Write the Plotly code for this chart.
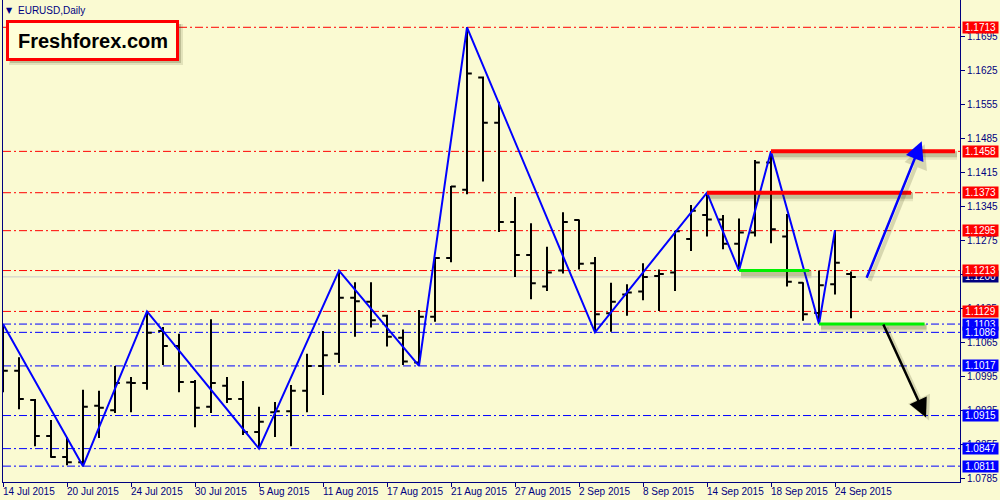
import plotly.graph_objects as go
import pandas as pd

# ---------------- data ----------------
symbol_title = "EURUSD,Daily"
brand_text = "Freshforex.com"

dates = [d.strftime("%Y-%m-%d") for d in pd.bdate_range("2015-07-14", "2015-09-25")]

opens = [1.1070, 1.1007, 1.0947, 1.0873, 1.0830, 1.0819, 1.0935, 1.0926, 1.0983, 1.0982,
         1.1089, 1.1058, 1.0984, 1.0933, 1.0976, 1.0949, 1.0881, 1.0922, 1.0924, 1.0966,
         1.1017, 1.1042, 1.1157, 1.1149, 1.1120, 1.1075, 1.1024, 1.1118, 1.1239, 1.1379,
         1.1610, 1.1517, 1.1313, 1.1245, 1.1180, 1.1213, 1.1317, 1.1228, 1.1125, 1.1164,
         1.1170, 1.1202, 1.1209, 1.1278, 1.1327, 1.1318, 1.1268, 1.1291, 1.1435, 1.1283,
         1.1188, 1.1126, 1.1185, 1.1206]
highs = [1.1103, 1.1035, 1.0949, 1.0906, 1.0871, 1.0968, 1.0966, 1.1017, 1.0994, 1.1129,
         1.1097, 1.1083, 1.0988, 1.1113, 1.0994, 1.0986, 1.0933, 1.0943, 1.0978, 1.1042,
         1.1089, 1.1213, 1.1189, 1.1189, 1.1122, 1.1092, 1.1132, 1.1240, 1.1387, 1.1713,
         1.1612, 1.1560, 1.1364, 1.1310, 1.1262, 1.1333, 1.1318, 1.1241, 1.1188, 1.1185,
         1.1228, 1.1215, 1.1295, 1.1348, 1.1373, 1.1327, 1.1320, 1.1440, 1.1458, 1.1329,
         1.1189, 1.1213, 1.1296, 1.1211]
lows = [1.0963, 1.0928, 1.0852, 1.0828, 1.0813, 1.0811, 1.0869, 1.0920, 1.0922, 1.0968,
        1.1019, 1.0963, 1.0891, 1.0920, 1.0941, 1.0875, 1.0847, 1.0871, 1.0852, 1.0922,
        1.0957, 1.1023, 1.1077, 1.1096, 1.1057, 1.1019, 1.1017, 1.1108, 1.1230, 1.1370,
        1.1396, 1.1292, 1.1200, 1.1154, 1.1171, 1.1207, 1.1215, 1.1086, 1.1087, 1.1120,
        1.1152, 1.1130, 1.1171, 1.1253, 1.1283, 1.1257, 1.1213, 1.1283, 1.1269, 1.1180,
        1.1110, 1.1103, 1.1164, 1.1115]
closes = [1.1007, 1.0949, 1.0873, 1.0830, 1.0819, 1.0933, 1.0931, 1.0982, 1.0982, 1.1085,
          1.1058, 1.0984, 1.0931, 1.0982, 1.0949, 1.0881, 1.0902, 1.0924, 1.0966, 1.1017,
          1.1039, 1.1157, 1.1150, 1.1111, 1.1077, 1.1026, 1.1118, 1.1239, 1.1386, 1.1618,
          1.1517, 1.1313, 1.1245, 1.1187, 1.1209, 1.1313, 1.1227, 1.1123, 1.1149, 1.1168,
          1.1200, 1.1206, 1.1294, 1.1336, 1.1318, 1.1268, 1.1291, 1.1435, 1.1298, 1.1190,
          1.1123, 1.1183, 1.1229, 1.1200]

tick_dates = ["2015-07-14", "2015-07-20", "2015-07-24", "2015-07-30", "2015-08-05",
              "2015-08-11", "2015-08-17", "2015-08-21", "2015-08-27", "2015-09-02",
              "2015-09-08", "2015-09-14", "2015-09-18", "2015-09-24"]
tick_labels = ["14 Jul 2015", "20 Jul 2015", "24 Jul 2015", "30 Jul 2015", "5 Aug 2015",
               "11 Aug 2015", "17 Aug 2015", "21 Aug 2015", "27 Aug 2015", "2 Sep 2015",
               "8 Sep 2015", "14 Sep 2015", "18 Sep 2015", "24 Sep 2015"]

price_ticks = [1.1695, 1.1625, 1.1555, 1.1485, 1.1415, 1.1345, 1.1275, 1.1205,
               1.1135, 1.1065, 1.0995, 1.0925, 1.0855, 1.0785]

resistance_levels = [1.1713, 1.1458, 1.1373, 1.1295, 1.1213, 1.1129]
support_levels = [1.1103, 1.1086, 1.1017, 1.0915, 1.0847, 1.0811]
current_price = 1.1200

zigzag_dates = ["2015-07-14", "2015-07-21", "2015-07-27", "2015-08-05", "2015-08-12",
                "2015-08-19", "2015-08-24", "2015-09-03", "2015-09-14", "2015-09-16",
                "2015-09-18", "2015-09-23", "2015-09-24"]
zigzag_kinds = ["H", "L", "H", "L", "H", "L", "H", "L", "H", "L", "H", "L", "H"]

# thick drawn lines: start date, level, end (bar position)
resist_line_dates = ["2015-09-18", "2015-09-14"]
resist_line_levels = [1.1458, 1.1373]
resist_line_ends = [59.5, 56.75]
support_line_dates = ["2015-09-16", "2015-09-23"]
support_line_levels = [1.1213, 1.1103]
support_line_ends = [50.4, 57.6]

# forecast arrows: (bar position, price) start -> end
arrow_up = [(53.94, 1.1195), (57.42, 1.1479)]
arrow_down = [(54.98, 1.1105), (57.69, 1.0911)]

# ---------------- layout / style ----------------
W, H = 1000, 500
ML, MR, MT, MB = 3, 40, 0, 18
PW, PH = W - ML - MR, H - MT - MB
BAR_PX = 16
Y_RANGE = [1.07784, 1.17691]
PRICE_PER_PX = (Y_RANGE[1] - Y_RANGE[0]) / PH
BG = "#FAFAD2"
NAVY = "#000080"
FONT = "Liberation Sans, Arial, sans-serif"
FS = 10

def fx(px):
    return (px - ML) / PW

def fy(py):
    return (MT + PH - py) / PH

xs = list(range(len(dates)))
idx = {d: i for i, d in enumerate(dates)}

fig = go.Figure()

# OHLC bars
fig.add_trace(go.Ohlc(
    x=xs, open=opens, high=highs, low=lows, close=closes,
    increasing=dict(line=dict(color="black", width=2)),
    decreasing=dict(line=dict(color="black", width=2)),
    tickwidth=0.3, hoverinfo="skip", showlegend=False,
))

# zigzag
zx = [idx[d] for d in zigzag_dates]
zy = [highs[i] if k == "H" else lows[i] for i, k in zip(zx, zigzag_kinds)]
fig.add_trace(go.Scatter(x=zx, y=zy, mode="lines",
                         line=dict(color="#0000FF", width=2),
                         hoverinfo="skip", showlegend=False))

# thick lines with shadows
def thick(dlist, levels, ends, color, width):
    for d, lv, e in zip(dlist, levels, ends):
        x0 = idx[d]
        for off, op, w in [(4, 0.10, width + 5), (3, 0.22, width + 2)]:
            fig.add_trace(go.Scatter(
                x=[x0 + 2 / BAR_PX, e + 2 / BAR_PX],
                y=[lv - off * PRICE_PER_PX] * 2, mode="lines",
                line=dict(color=f"rgba(60,60,20,{op})", width=w),
                hoverinfo="skip", showlegend=False))
        fig.add_trace(go.Scatter(x=[x0, e], y=[lv, lv], mode="lines",
                                 line=dict(color=color, width=width),
                                 hoverinfo="skip", showlegend=False))

thick(resist_line_dates, resist_line_levels, resist_line_ends, "#FF0000", 4)
thick(support_line_dates, support_line_levels, support_line_ends, "#00F000", 3)

shapes = []
# current price line
shapes.append(dict(type="line", xref="paper", x0=0, x1=1, yref="y",
                   y0=current_price, y1=current_price, layer="below",
                   line=dict(color="#C8C8C8", width=1)))
DASH = "8px,3px,2px,3px"
for lv in resistance_levels:
    shapes.append(dict(type="line", xref="paper", x0=0, x1=1, yref="y", y0=lv, y1=lv,
                       layer="below", line=dict(color="#FF0000", width=1, dash=DASH)))
for lv in support_levels:
    shapes.append(dict(type="line", xref="paper", x0=0, x1=1, yref="y", y0=lv, y1=lv,
                       layer="below", line=dict(color="#0000FF", width=1, dash=DASH)))

# logo box with shadow
shapes.append(dict(type="rect", xref="paper", yref="paper",
                   x0=fx(9), x1=fx(183), y0=fy(65), y1=fy(24),
                   fillcolor="rgba(60,60,20,0.12)", line=dict(width=0)))
shapes.append(dict(type="rect", xref="paper", yref="paper",
                   x0=fx(10), x1=fx(181), y0=fy(63), y1=fy(24),
                   fillcolor="rgba(60,60,20,0.22)", line=dict(width=0)))
shapes.append(dict(type="rect", xref="paper", yref="paper",
                   x0=fx(7.5), x1=fx(177.5), y0=fy(59.5), y1=fy(21.5),
                   fillcolor="#FFFFD8", line=dict(color="#FF0000", width=3)))

annotations = []
annotations.append(dict(x=fx(92.5), y=fy(40.5), xref="paper", yref="paper",
                        xanchor="center", yanchor="middle",
                        text=f"<b>{brand_text}</b>", showarrow=False,
                        font=dict(family=FONT, size=20, color="black")))
annotations.append(dict(x=fx(9.8), y=fy(10.5), xref="paper", yref="paper",
                        xanchor="center", yanchor="middle",
                        text="▼", showarrow=False,
                        font=dict(family="DejaVu Sans", size=8, color=NAVY)))
annotations.append(dict(x=fx(16), y=fy(10.5), xref="paper", yref="paper",
                        xanchor="left", yanchor="middle", text=symbol_title,
                        showarrow=False,
                        font=dict(family=FONT, size=FS, color=NAVY)))

# x tick labels (left aligned at tick)
for d, lab in zip(tick_dates, tick_labels):
    annotations.append(dict(x=idx[d], xref="x", y=0, yref="paper", yanchor="top",
                            xanchor="left", xshift=-2, yshift=-2, text=lab,
                            showarrow=False,
                            font=dict(family=FONT, size=FS, color=NAVY)))

# price boxes on right axis
def price_box(p, bg):
    annotations.append(dict(x=1, xref="paper", xanchor="left", xshift=2,
                            y=p, yref="y", yanchor="middle",
                            text=f"{p:.4f}", showarrow=False, bgcolor=bg,
                            width=35, height=11, borderpad=0,
                            font=dict(family=FONT, size=FS, color="white")))

price_box(current_price, NAVY)
for lv in resistance_levels:
    price_box(lv, "#FF0000")
for lv in support_levels:
    price_box(lv, "#0000FF")

# arrows with shadow
def arrow(a, color):
    (x0, y0), (x1, y1) = a
    annotations.append(dict(x=x1, y=y1, ax=x0, ay=y0, xref="x", yref="y",
                            axref="x", ayref="y", xshift=3, yshift=-3, text="",
                            showarrow=True, arrowhead=2, arrowsize=1.2,
                            arrowwidth=4, arrowcolor="rgba(60,60,20,0.18)", standoff=0))
    annotations.append(dict(x=x1, y=y1, ax=x0, ay=y0, xref="x", yref="y",
                            axref="x", ayref="y", text="",
                            showarrow=True, arrowhead=2, arrowsize=1.5,
                            arrowwidth=2.5, arrowcolor=color, standoff=0))

arrow(arrow_up, "#0000FF")
arrow(arrow_down, "black")

fig.update_layout(
    width=W, height=H,
    margin=dict(l=ML, r=MR, t=MT, b=MB, pad=0),
    paper_bgcolor=BG, plot_bgcolor=BG,
    showlegend=False,
    shapes=shapes, annotations=annotations,
    xaxis=dict(range=[0, PW / BAR_PX], tickvals=[idx[d] for d in tick_dates],
               showticklabels=False, ticks="outside", ticklen=4, tickcolor=NAVY,
               showline=True, linecolor=NAVY, linewidth=1, showgrid=False,
               zeroline=False, rangeslider=dict(visible=False), fixedrange=True),
    yaxis=dict(range=Y_RANGE, side="right", tickvals=price_ticks,
               ticktext=[f"{v:.4f}" for v in price_ticks],
               ticks="outside", ticklen=4, tickcolor=NAVY,
               tickfont=dict(family=FONT, size=FS, color=NAVY),
               showline=True, linecolor=NAVY, linewidth=1, mirror=True,
               showgrid=False, zeroline=False, fixedrange=True),
)

fig.write_html("out.html", config={"displayModeBar": False},
               post_script="document.body.style.margin='0px';document.body.style.background='" + BG + "';")
